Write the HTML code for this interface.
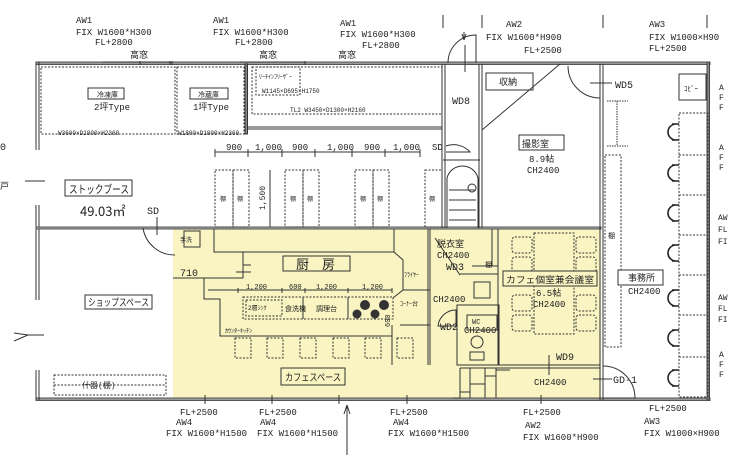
<!DOCTYPE html>
<html><head><meta charset="utf-8"><style>
html,body{margin:0;padding:0;background:#fff;}
svg{display:block}
text{font-family:"Liberation Mono","Noto Sans CJK JP",monospace;fill:#222;}
.s{font-size:9px}
.m{font-size:10px}
.l{font-size:13px}
</style></head><body>
<svg width="736" height="455" viewBox="0 0 736 455" xmlns="http://www.w3.org/2000/svg">
<path d="M173 229 H601 V400 H173 Z" fill="#f9f4c2"/>
<g fill="none" stroke="#333" stroke-width="1">
<rect x="36" y="62" width="674" height="2.5" fill="#999" stroke="#555"/>
<rect x="36" y="398" width="674" height="2.5" fill="#999" stroke="#555"/>
<rect x="707" y="62" width="2.5" height="338" fill="#888" stroke="#444"/>
<path d="M36 62 V150 M39 62 V150 M36 205 V300 M39 205 V300 M36 370 V400 M39 370 V400"/>
<path d="M103 62 H172 M172 61 V65 M240 62 H305 M305 61 V65 M140 61 V65 M170 61 V65"/>
<rect x="36" y="227" width="565" height="2" fill="#aaa" stroke="#555"/>
<rect x="41" y="67" width="134" height="67" stroke-dasharray="2,1.5"/>
<rect x="177" y="67" width="67" height="67" stroke-dasharray="2,1.5"/>
<rect x="245" y="64" width="2.5" height="70" fill="#888"/>
<rect x="256" y="67" width="44" height="28" stroke-dasharray="2,1.5"/>
<rect x="252" y="67" width="190" height="47" stroke-dasharray="2,1.5"/>
<path d="M247 127 H442 M247 129 H442"/>
<path d="M215 152 H420 M215 149 V157 M248 149 V157 M282 149 V157 M315 149 V157 M352 149 V157 M385 149 V157 M420 149 V157"/>
<g stroke-dasharray="2,1.5">
<rect x="215" y="170" width="18" height="57"/><rect x="233" y="170" width="16" height="57"/>
<rect x="285" y="170" width="18" height="57"/><rect x="303" y="170" width="16" height="57"/>
<rect x="355" y="170" width="18" height="57"/><rect x="373" y="170" width="16" height="57"/>
<rect x="425" y="170" width="17" height="57"/>
</g>
<path d="M270 170 V227"/>
<path d="M442 64 V228 M445 64 V228 M479 64 V228 M482 64 V228 M443 160 H480"/>
<path d="M446 146 A22 22 0 0 1 470 152 L446 152"/>
<path d="M447 228 V178 A16 16 0 0 1 478 178 V228 M449 190 H476 M449 200 H476 M449 210 H476 M449 220 H476"/>
<circle cx="472" cy="188" r="4"/>
<path d="M448 63 A28 28 0 0 1 476 35 V63 M465 45 V72"/>
<path d="M482 130 L560 64"/>
<rect x="486" y="73" width="47" height="17"/>
<path d="M600 64 V228 M603 64 V228"/>
<path d="M568 66 A32 32 0 0 0 600 98 V66 M590 83 H612"/>
<rect x="519" y="135" width="45" height="15"/>
<path d="M607 101 H628 M607 146 H628 M617 101 V146" stroke-dasharray="1.5,1"/>
<rect x="605" y="155" width="16" height="192" stroke-dasharray="2,1.5"/>
<rect x="679" y="113" width="29" height="284" stroke-dasharray="2,1.5"/>
<path d="M679 155 H708 M679 195 H708 M679 235 H708 M679 275 H708 M679 315 H708 M679 357 H708" stroke-dasharray="2,1.5"/>
<rect x="679" y="74" width="27" height="26"/>
<rect x="618" y="270" width="45" height="15" fill="#fff"/>
<path d="M600 228 V400 M603 228 V400"/>
<path d="M603 366 A32 32 0 0 1 635 398 H603 M593 379 H612"/>
<rect x="184" y="231" width="16" height="16"/>
<path d="M214 229 V252 H394 V229 M173 278 H243 V252 M243 265 H251 M236 272 H251"/>
<path d="M394 252 L403 260 V290 L393 298"/>
<rect x="283" y="256" width="67" height="15"/>
<path d="M204 278 V299 H220 V336 H392 M208 290 H243" />
<path d="M238 290 H392 M238 288 V293 M282 288 V293 M305 288 V293 M348 288 V293 M392 288 V293"/>
<rect x="243" y="297" width="150" height="22" stroke-dasharray="2,1.5"/>
<rect x="246" y="300" width="36" height="16" stroke-dasharray="2,1.5"/>
<path d="M303 297 V319 M348 297 V319"/>
<g fill="#333" stroke="none"><circle cx="365" cy="305" r="5"/><circle cx="384" cy="305" r="5"/><circle cx="357" cy="314" r="4.5"/><circle cx="375" cy="314" r="4.5"/></g>
<g stroke-dasharray="2,1.5">
<rect x="235" y="338" width="16" height="20"/><rect x="267" y="338" width="16" height="20"/><rect x="300" y="338" width="16" height="20"/><rect x="333" y="338" width="16" height="20"/><rect x="365" y="338" width="16" height="20"/><rect x="397" y="338" width="16" height="20"/>
</g>
<rect x="281" y="368" width="64" height="17"/>
<path d="M403 290 H430 M400 325 H430 M428 229 V365 M392 325 V365"/>
<path d="M430 229 V365 M498 229 V365 M435 238 L460 275 M460 274 H498 M472 266 H498 V246 M492 229 V266"/>
<rect x="474" y="282" width="16" height="16"/>
<rect x="457" y="305" width="42" height="60"/>
<rect x="467" y="315" width="30" height="15"/>
<circle cx="477" cy="342" r="6"/>
<rect x="470" y="352" width="14" height="8"/>
<path d="M438 326 A18 18 0 0 1 456 310 V326 Z"/>
<path d="M460 365 H600 M460 368 H600 M460 368 V398 M470 368 V398 M485 368 V398 M496 368 V398 M453 398 H460 M460 392 H470 M470 384 H485 M485 376 H496 M496 370 H510"/>
<path d="M549 355 V375"/>
<rect x="534" y="233" width="40" height="101" stroke-dasharray="2,1.5"/>
<g stroke-dasharray="2,1.5">
<rect x="512" y="237" width="20" height="16" rx="3"/><rect x="576" y="237" width="20" height="16" rx="3"/>
<rect x="512" y="257" width="20" height="16" rx="3"/><rect x="576" y="257" width="20" height="16" rx="3"/>
<rect x="512" y="295" width="20" height="16" rx="3"/><rect x="576" y="295" width="20" height="16" rx="3"/>
<rect x="512" y="315" width="20" height="16" rx="3"/><rect x="576" y="315" width="20" height="16" rx="3"/>
</g>
<rect x="503" y="271" width="94" height="15" fill="#f9f4c2"/>
<rect x="88" y="88" width="36" height="11"/><rect x="190" y="88" width="38" height="11"/>
<rect x="65" y="180" width="67" height="16"/>
<rect x="85" y="295" width="67" height="14"/>
<rect x="54" y="375" width="112" height="20" stroke-dasharray="2,1.5"/>
<path d="M54 385 H166" stroke-dasharray="2,1.5"/>
<path d="M143 228 A32 32 0 0 0 175 255 M157 217 V235"/>
<path d="M14 333 L28 335 L14 341 M28 335 H44 M25 181 H45"/>
<path d="M205 395 V404 M272 395 V404 M339 395 V404 M407 395 V404 M541 395 V404 M347 455 V405"/>
<path d="M347 405 L344 414 M347 405 L350 414"/>
<path d="M464 40 V32 M464 40 L462 34 M464 40 L466 34 M443 15 V28 M482 15 V28 M603 15 V28 M707 15 V28"/>
</g>
<g fill="none" stroke="#222" stroke-width="1.6">
<path d="M676 124 A8 8 0 0 0 676 140 M672 124 H679 M672 140 H679"/><path d="M676 165 A8 8 0 0 0 676 181 M672 165 H679 M672 181 H679"/>
<path d="M676 205 A8 8 0 0 0 676 221 M672 205 H679 M672 221 H679"/><path d="M676 245 A8 8 0 0 0 676 261 M672 245 H679 M672 261 H679"/>
<path d="M676 290 A8 8 0 0 0 676 306 M672 290 H679 M672 306 H679"/><path d="M676 330 A8 8 0 0 0 676 346 M672 330 H679 M672 346 H679"/>
<path d="M676 370 A8 8 0 0 0 676 386 M672 370 H679 M672 386 H679"/>
</g>
<g class="s">
<text x="76" y="23">AW1</text><text x="76" y="35">FIX  W1600*H300</text><text x="95" y="45">FL+2800</text><text x="130" y="58">高窓</text>
<text x="213" y="23">AW1</text><text x="213" y="35">FIX  W1600*H300</text><text x="235" y="45">FL+2800</text><text x="259" y="58">高窓</text>
<text x="340" y="26">AW1</text><text x="340" y="37">FIX  W1600*H300</text><text x="362" y="48">FL+2800</text><text x="338" y="58">高窓</text>
<text x="506" y="27">AW2</text><text x="486" y="40">FIX W1600*H900</text><text x="524" y="53">FL+2500</text>
<text x="649" y="27">AW3</text><text x="649" y="40">FIX  W1000×H90</text><text x="649" y="51">FL+2500</text>
<text x="97" y="97" font-size="7">冷凍庫</text><text x="198" y="97" font-size="7">冷蔵庫</text>
<text x="94" y="110">2坪Type</text><text x="193" y="110">1坪Type</text>
<text x="58" y="135" font-size="6">W3600×D1800×H2360</text><text x="178" y="135" font-size="6">W1800×D1800×H2360</text>
<text x="259" y="79" font-size="6">ﾘｰﾁｲﾝﾌﾘｰｻﾞｰ</text><text x="262" y="93" font-size="6">W1145×D695×H1750</text>
<text x="290" y="112" font-size="6">TL2  W3450×D1300×H2160</text>
<text x="226" y="150">900</text><text x="255" y="150">1,000</text><text x="292" y="150">900</text><text x="327" y="150">1,000</text><text x="364" y="150">900</text><text x="393" y="150">1,000</text>
<text x="265" y="210" font-size="8" transform="rotate(-90 265 210)">1,500</text>
<text x="220" y="201" font-size="6">棚</text><text x="237" y="201" font-size="6">棚</text><text x="290" y="201" font-size="6">棚</text><text x="307" y="201" font-size="6">棚</text><text x="360" y="201" font-size="6">棚</text><text x="377" y="201" font-size="6">棚</text><text x="429" y="201" font-size="6">棚</text>
<text x="452" y="104" class="m">WD8</text><text x="432" y="150">SD</text><text x="147" y="214" class="m">SD</text>
<text x="499" y="85">収納</text><text x="522" y="147">撮影室</text><text x="529" y="162">8.9帖</text><text x="527" y="173">CH2400</text>
<text x="615" y="88" class="m">WD5</text><text x="684" y="91" font-size="7">ｺﾋﾟｰ</text>
<text x="608" y="238" font-size="7">棚</text><text x="628" y="281">事務所</text><text x="628" y="294">CH2400</text>
<text x="0" y="150" class="m">0</text><text x="0" y="189">戸</text>
<text x="180" y="242" font-size="6">手洗</text><text x="180" y="276" class="m">710</text>
<text x="246" y="289" font-size="7">1,200</text><text x="289" y="289" font-size="7">600</text><text x="316" y="289" font-size="7">1,200</text><text x="362" y="289" font-size="7">1,200</text>
<text x="248" y="310" font-size="6">2層ｼﾝｸ</text><text x="285" y="311" font-size="7">食洗機</text><text x="316" y="311" font-size="7">調理台</text>
<text x="404" y="277" font-size="6">ﾌﾗｲﾔｰ</text><text x="400" y="306" font-size="6">ｺｰﾅｰ台</text>
<text x="390" y="327" font-size="7" transform="rotate(-90 390 327)">600</text>
<text x="225" y="333" font-size="6">ｶｳﾝﾀｰｷｯﾁﾝ</text>
<text x="437" y="247">脱衣室</text><text x="437" y="258">CH2400</text><text x="446" y="270" class="m">WD3</text>
<text x="433" y="302">CH2400</text><text x="440" y="330" class="m">WD2</text>
<text x="472" y="324" font-size="7">WC</text><text x="464" y="333">CH2400</text><text x="485" y="267" font-size="7">棚</text>
<text x="506" y="283" textLength="88" lengthAdjust="spacingAndGlyphs">カフェ個室兼会議室</text><text x="536" y="296">6.5帖</text><text x="533" y="307">CH2400</text>
<text x="556" y="360" class="m">WD9</text><text x="534" y="385">CH2400</text><text x="613" y="383" class="m">GD-1</text>
<text x="180" y="415">FL+2500</text><text x="176" y="425">AW4</text><text x="166" y="436">FIX W1600*H1500</text>
<text x="259" y="415">FL+2500</text><text x="260" y="425">AW4</text><text x="257" y="436">FIX W1600*H1500</text>
<text x="390" y="415">FL+2500</text><text x="393" y="425">AW4</text><text x="388" y="436">FIX W1600*H1500</text>
<text x="523" y="415">FL+2500</text><text x="525" y="428">AW2</text><text x="523" y="440">FIX W1600*H900</text>
<text x="649" y="411">FL+2500</text><text x="644" y="424">AW3</text><text x="644" y="436">FIX  W1000×H900</text>
<text x="719" y="90" font-size="8">A</text><text x="719" y="100" font-size="8">F</text><text x="719" y="110" font-size="8">F</text>
<text x="719" y="150" font-size="8">A</text><text x="719" y="160" font-size="8">F</text><text x="719" y="170" font-size="8">F</text>
<text x="718" y="220" font-size="8">AW</text><text x="718" y="232" font-size="8">FL</text><text x="718" y="244" font-size="8">FI</text>
<text x="718" y="300" font-size="8">AW</text><text x="718" y="311" font-size="8">FL</text><text x="718" y="322" font-size="8">FI</text>
<text x="719" y="357" font-size="8">A</text><text x="719" y="367" font-size="8">F</text><text x="719" y="377" font-size="8">F</text>
</g>
<text x="80" y="216" class="l" style="font-family:'Noto Sans CJK JP',sans-serif">49.03㎡</text>
<text x="69" y="193" font-size="11" textLength="60" lengthAdjust="spacingAndGlyphs">ストックブース</text>
<text x="88" y="306" font-size="10" textLength="61" lengthAdjust="spacingAndGlyphs">ショップスペース</text>
<text x="82" y="388" font-size="8">什器(棚)</text>
<text x="296" y="269" class="l">厨　房</text>
<text x="285" y="381" font-size="10" textLength="56" lengthAdjust="spacingAndGlyphs">カフェスペース</text>
</svg>
</body></html>
